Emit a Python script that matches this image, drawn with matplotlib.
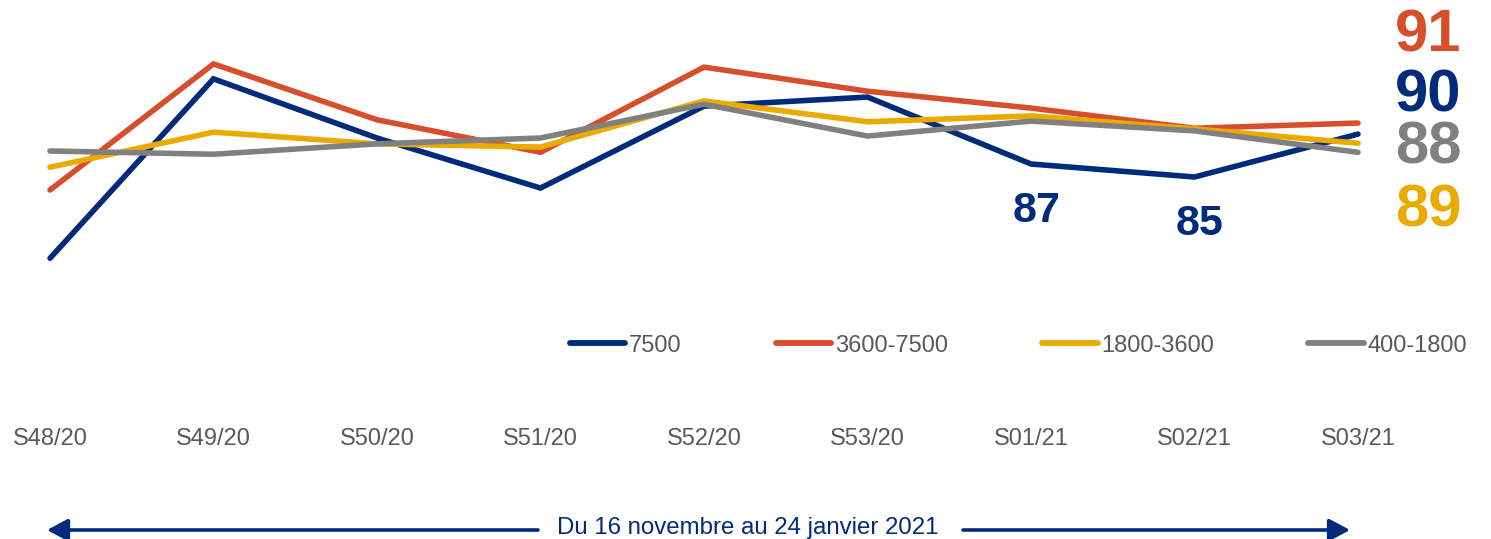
import matplotlib
matplotlib.use("Agg")
import matplotlib.pyplot as plt
import numpy as np

plt.rcParams['font.family'] = ['Liberation Sans', 'DejaVu Sans']

# ---- data ----
weeks = ["S48/20", "S49/20", "S50/20", "S51/20", "S52/20", "S53/20", "S01/21", "S02/21", "S03/21"]
series_names = ["7500", "3600-7500", "1800-3600", "400-1800"]
v_7500      = [72.5, 100.1, 91.0, 83.3, 95.9, 97.3, 87.0, 85.0, 91.6]
v_3600_7500 = [83.0, 102.4, 93.8, 88.8, 101.9, 98.2, 95.6, 92.5, 93.3]
v_1800_3600 = [86.5, 91.9, 90.1, 89.6, 96.7, 93.5, 94.4, 92.4, 90.2]
v_400_1800  = [89.0, 88.5, 90.1, 91.0, 96.2, 91.3, 93.6, 92.1, 88.8]
end_labels = ["91", "90", "88", "89"]
point_labels = {6: "87", 7: "85"}   # labels on the 7500 series
period_text = "Du 16 novembre au 24 janvier 2021"

colors = ["#002A7A", "#D64E2B", "#EAAB00", "#808080"]

W, H = 1491, 539
fig = plt.figure(figsize=(W / 100, H / 100), dpi=100)

def fx(px):
    return px / W

def fy(py):
    return 1 - py / H

# axes: x data 0..8 -> pixels 50..1358 ; y pixels 0..415
ax_bottom_px = 415
ax = fig.add_axes([fx(50), fy(ax_bottom_px), fx(1358) - fx(50), ax_bottom_px / H])
ax.set_xlim(0, len(weeks) - 1)
top_v = 87 + 164 / 6.5
bot_v = 87 - (ax_bottom_px - 164) / 6.5
ax.set_ylim(bot_v, top_v)
for s in ax.spines.values():
    s.set_visible(False)
ax.set_yticks([])

x = np.arange(len(weeks))
all_series = [v_7500, v_3600_7500, v_1800_3600, v_400_1800]
for vals, name, c in zip(all_series, series_names, colors):
    ax.plot(x, vals, color=c, lw=4.0, solid_capstyle='round', solid_joinstyle='miter',
            label=name, clip_on=False)

ax.set_xticks(x)
ax.set_xticklabels(weeks, fontsize=17, color="#595959")
ax.tick_params(axis='x', length=0, pad=9.5)

# labels on the 7500 series
for i, t in point_labels.items():
    ax.annotate(t, xy=(x[i], v_7500[i]), xytext=(4, -34), textcoords='offset points',
                ha='center', va='center', fontsize=31, fontweight='bold', color=colors[0])

# end labels on the right
end_y_px = [36, 96, 148, 211]
for t, ypx, c in zip(end_labels, end_y_px, [colors[1], colors[0], colors[3], colors[2]]):
    fig.text(fx(1428), fy(ypx), t, ha='center', va='center', fontsize=43,
             fontweight='bold', color=c)

# legend
leg = ax.legend(loc='center', bbox_to_anchor=(fx(1018.5), fy(345.5)), bbox_transform=fig.transFigure,
                ncol=4, frameon=False, handlelength=2.34, handletextpad=0.15,
                columnspacing=4.0, fontsize=17, borderpad=0)
for txt in leg.get_texts():
    txt.set_color("#595959")
for h in leg.get_lines():
    h.set_linewidth(4.2)
    h.set_solid_capstyle('round')

# period arrows
navy = "#002A7A"
ay = fy(530)
ap = dict(arrowstyle='-|>,head_length=0.6,head_width=0.32', color=navy, lw=2.6,
          mutation_scale=21, shrinkA=0, shrinkB=0)
fig.add_artist(matplotlib.patches.FancyArrowPatch((fx(538), ay), (fx(47), ay),
               transform=fig.transFigure, **ap))
fig.add_artist(matplotlib.patches.FancyArrowPatch((fx(963), ay), (fx(1350), ay),
               transform=fig.transFigure, **ap))
fig.text(fx(748), fy(534), period_text, ha='center', va='baseline', fontsize=17.3, color=navy)

fig.savefig("out.png", dpi=100)
